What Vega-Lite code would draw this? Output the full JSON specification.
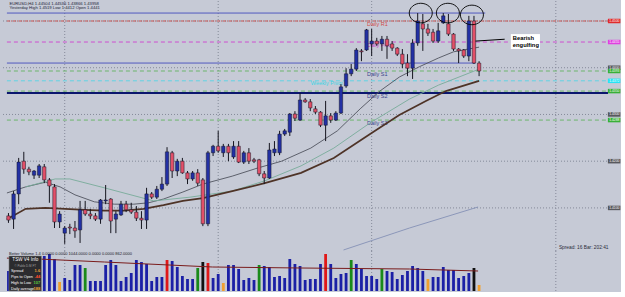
{
"$schema":"https://vega.github.io/schema/vega-lite/v6.json",
"background":"#c6cad6",
"padding":0,
"spacing":0,
"bounds":"flush",
"config":{"view":{"stroke":null},"font":"Liberation Sans"},
"datasets":{
"candles":[
{"i":0,"o":1.4083,"h":1.4089,"l":1.4068,"c":1.4074},
{"i":1,"o":1.4076,"h":1.4136,"l":1.4055,"c":1.4130},
{"i":2,"o":1.4130,"h":1.4207,"l":1.4108,"c":1.4198},
{"i":3,"o":1.4200,"h":1.4220,"l":1.4173,"c":1.4183},
{"i":4,"o":1.4183,"h":1.4188,"l":1.4170,"c":1.4177},
{"i":5,"o":1.4170,"h":1.4181,"l":1.4162,"c":1.4179},
{"i":6,"o":1.4170,"h":1.4194,"l":1.4164,"c":1.4190},
{"i":7,"o":1.4188,"h":1.4194,"l":1.4153,"c":1.4160},
{"i":8,"o":1.4160,"h":1.4164,"l":1.4111,"c":1.4147},
{"i":9,"o":1.4145,"h":1.4151,"l":1.4057,"c":1.4070},
{"i":10,"o":1.4070,"h":1.4093,"l":1.4057,"c":1.4087},
{"i":11,"o":1.4046,"h":1.4061,"l":1.4023,"c":1.4057},
{"i":12,"o":1.4059,"h":1.4066,"l":1.4044,"c":1.4057},
{"i":13,"o":1.4057,"h":1.4072,"l":1.4036,"c":1.4051},
{"i":14,"o":1.4053,"h":1.4115,"l":1.4025,"c":1.4096},
{"i":15,"o":1.4096,"h":1.4115,"l":1.4083,"c":1.4087},
{"i":16,"o":1.4087,"h":1.4098,"l":1.4076,"c":1.4083},
{"i":17,"o":1.4083,"h":1.4089,"l":1.4072,"c":1.4076},
{"i":18,"o":1.4076,"h":1.4119,"l":1.4066,"c":1.4117},
{"i":19,"o":1.4115,"h":1.4149,"l":1.4108,"c":1.4117},
{"i":20,"o":1.4119,"h":1.4121,"l":1.4046,"c":1.4072},
{"i":21,"o":1.4076,"h":1.4093,"l":1.4046,"c":1.4087},
{"i":22,"o":1.4085,"h":1.4115,"l":1.4083,"c":1.4108},
{"i":23,"o":1.4108,"h":1.4115,"l":1.4091,"c":1.4096},
{"i":24,"o":1.4096,"h":1.4111,"l":1.4087,"c":1.4091},
{"i":25,"o":1.4091,"h":1.4104,"l":1.4072,"c":1.4078},
{"i":26,"o":1.4078,"h":1.4093,"l":1.4055,"c":1.4074},
{"i":27,"o":1.4074,"h":1.4143,"l":1.4055,"c":1.4130},
{"i":28,"o":1.4130,"h":1.4134,"l":1.4119,"c":1.4123},
{"i":29,"o":1.4123,"h":1.4147,"l":1.4119,"c":1.4140},
{"i":30,"o":1.4140,"h":1.4166,"l":1.4136,"c":1.4151},
{"i":31,"o":1.4151,"h":1.4230,"l":1.4147,"c":1.4220},
{"i":32,"o":1.4218,"h":1.4222,"l":1.4164,"c":1.4179},
{"i":33,"o":1.4179,"h":1.4205,"l":1.4168,"c":1.4200},
{"i":34,"o":1.4200,"h":1.4207,"l":1.4173,"c":1.4175},
{"i":35,"o":1.4175,"h":1.4179,"l":1.4151,"c":1.4162},
{"i":36,"o":1.4162,"h":1.4179,"l":1.4158,"c":1.4175},
{"i":37,"o":1.4175,"h":1.4183,"l":1.4147,"c":1.4153},
{"i":38,"o":1.4160,"h":1.4164,"l":1.4061,"c":1.4066},
{"i":39,"o":1.4066,"h":1.4222,"l":1.4061,"c":1.4218},
{"i":40,"o":1.4218,"h":1.4235,"l":1.4211,"c":1.4232},
{"i":41,"o":1.4232,"h":1.4265,"l":1.4218,"c":1.4222},
{"i":42,"o":1.4218,"h":1.4237,"l":1.4209,"c":1.4232},
{"i":43,"o":1.4232,"h":1.4237,"l":1.4200,"c":1.4218},
{"i":44,"o":1.4209,"h":1.4243,"l":1.4205,"c":1.4232},
{"i":45,"o":1.4232,"h":1.4243,"l":1.4196,"c":1.4198},
{"i":46,"o":1.4198,"h":1.4222,"l":1.4194,"c":1.4218},
{"i":47,"o":1.4218,"h":1.4228,"l":1.4194,"c":1.4200},
{"i":48,"o":1.4203,"h":1.4207,"l":1.4196,"c":1.4200},
{"i":49,"o":1.4203,"h":1.4205,"l":1.4168,"c":1.4173},
{"i":50,"o":1.4173,"h":1.4179,"l":1.4151,"c":1.4164},
{"i":51,"o":1.4164,"h":1.4239,"l":1.4162,"c":1.4224},
{"i":52,"o":1.4218,"h":1.4243,"l":1.4211,"c":1.4226},
{"i":53,"o":1.4218,"h":1.4265,"l":1.4213,"c":1.4258},
{"i":54,"o":1.4258,"h":1.4269,"l":1.4254,"c":1.4265},
{"i":55,"o":1.4262,"h":1.4303,"l":1.4254,"c":1.4301},
{"i":56,"o":1.4301,"h":1.4307,"l":1.4286,"c":1.4292},
{"i":57,"o":1.4288,"h":1.4346,"l":1.4286,"c":1.4331},
{"i":58,"o":1.4331,"h":1.4335,"l":1.4325,"c":1.4327},
{"i":59,"o":1.4327,"h":1.4333,"l":1.4307,"c":1.4314},
{"i":60,"o":1.4312,"h":1.4318,"l":1.4301,"c":1.4305},
{"i":61,"o":1.4305,"h":1.4307,"l":1.4273,"c":1.4277},
{"i":62,"o":1.4277,"h":1.4329,"l":1.4243,"c":1.4297},
{"i":63,"o":1.4297,"h":1.4303,"l":1.4282,"c":1.4288},
{"i":64,"o":1.4288,"h":1.4307,"l":1.4286,"c":1.4303},
{"i":65,"o":1.4303,"h":1.4365,"l":1.4301,"c":1.4359},
{"i":66,"o":1.4361,"h":1.4399,"l":1.4357,"c":1.4387},
{"i":67,"o":1.4387,"h":1.4408,"l":1.4382,"c":1.4397},
{"i":68,"o":1.4397,"h":1.4442,"l":1.4393,"c":1.4438},
{"i":69,"o":1.4436,"h":1.4440,"l":1.4414,"c":1.4434},
{"i":70,"o":1.4438,"h":1.4483,"l":1.4436,"c":1.4481},
{"i":71,"o":1.4451,"h":1.4483,"l":1.4425,"c":1.4457},
{"i":72,"o":1.4457,"h":1.4464,"l":1.4447,"c":1.4451},
{"i":73,"o":1.4451,"h":1.4468,"l":1.4436,"c":1.4461},
{"i":74,"o":1.4461,"h":1.4468,"l":1.4419,"c":1.4447},
{"i":75,"o":1.4451,"h":1.4457,"l":1.4436,"c":1.4442},
{"i":76,"o":1.4442,"h":1.4444,"l":1.4425,"c":1.4429},
{"i":77,"o":1.4429,"h":1.4440,"l":1.4399,"c":1.4408},
{"i":78,"o":1.4410,"h":1.4429,"l":1.4382,"c":1.4399},
{"i":79,"o":1.4399,"h":1.4461,"l":1.4376,"c":1.4453},
{"i":80,"o":1.4453,"h":1.4517,"l":1.4447,"c":1.4500},
{"i":81,"o":1.4494,"h":1.4515,"l":1.4436,"c":1.4483},
{"i":82,"o":1.4483,"h":1.4494,"l":1.4468,"c":1.4474},
{"i":83,"o":1.4476,"h":1.4483,"l":1.4453,"c":1.4457},
{"i":84,"o":1.4457,"h":1.4496,"l":1.4453,"c":1.4479},
{"i":85,"o":1.4496,"h":1.4517,"l":1.4494,"c":1.4511},
{"i":86,"o":1.4494,"h":1.4515,"l":1.4468,"c":1.4472},
{"i":87,"o":1.4472,"h":1.4474,"l":1.4436,"c":1.4440},
{"i":88,"o":1.4440,"h":1.4442,"l":1.4410,"c":1.4436},
{"i":89,"o":1.4438,"h":1.4440,"l":1.4421,"c":1.4425},
{"i":90,"o":1.4425,"h":1.4511,"l":1.4414,"c":1.4500},
{"i":91,"o":1.4500,"h":1.4511,"l":1.4408,"c":1.4410},
{"i":92,"o":1.4410,"h":1.4414,"l":1.4382,"c":1.4393}
],
"vol":[
{"i":0,"v":9000,"t":"normal"},{"i":1,"v":14400,"t":"normal"},{"i":2,"v":15750,"t":"normal"},{"i":3,"v":11250,"t":"normal"},
{"i":4,"v":6750,"t":"normal"},{"i":5,"v":8100,"t":"normal"},{"i":6,"v":12600,"t":"normal"},{"i":7,"v":15750,"t":"normal"},
{"i":8,"v":16650,"t":"normal"},{"i":9,"v":14400,"t":"normal"},{"i":10,"v":4050,"t":"low"},{"i":11,"v":5850,"t":"normal"},
{"i":12,"v":4950,"t":"normal"},{"i":13,"v":11700,"t":"normal"},{"i":14,"v":11700,"t":"normal"},{"i":15,"v":10350,"t":"churn"},
{"i":16,"v":4500,"t":"normal"},{"i":17,"v":4500,"t":"normal"},{"i":18,"v":4500,"t":"normal"},{"i":19,"v":11700,"t":"normal"},
{"i":20,"v":13950,"t":"normal"},{"i":21,"v":11700,"t":"normal"},{"i":22,"v":4500,"t":"normal"},{"i":23,"v":6300,"t":"normal"},
{"i":24,"v":8100,"t":"normal"},{"i":25,"v":13950,"t":"normal"},{"i":26,"v":13050,"t":"normal"},{"i":27,"v":12150,"t":"normal"},
{"i":28,"v":4500,"t":"normal"},{"i":29,"v":6300,"t":"normal"},{"i":30,"v":6300,"t":"normal"},{"i":31,"v":13950,"t":"climax"},
{"i":32,"v":13500,"t":"normal"},{"i":33,"v":10800,"t":"normal"},{"i":34,"v":6750,"t":"normal"},{"i":35,"v":5400,"t":"normal"},
{"i":36,"v":5400,"t":"normal"},{"i":37,"v":10350,"t":"churn"},{"i":38,"v":13050,"t":"climaxchurn"},{"i":39,"v":12600,"t":"climax"},
{"i":40,"v":5850,"t":"normal"},{"i":41,"v":7650,"t":"normal"},{"i":42,"v":3600,"t":"low"},{"i":43,"v":11700,"t":"normal"},
{"i":44,"v":11700,"t":"normal"},{"i":45,"v":9900,"t":"normal"},{"i":46,"v":4950,"t":"normal"},{"i":47,"v":5850,"t":"normal"},
{"i":48,"v":4950,"t":"normal"},{"i":49,"v":11700,"t":"churn"},{"i":50,"v":11250,"t":"normal"},{"i":51,"v":10800,"t":"normal"},
{"i":52,"v":6300,"t":"normal"},{"i":53,"v":6750,"t":"normal"},{"i":54,"v":5850,"t":"normal"},{"i":55,"v":14400,"t":"normal"},
{"i":56,"v":12150,"t":"normal"},{"i":57,"v":11250,"t":"normal"},{"i":58,"v":4950,"t":"normal"},{"i":59,"v":5400,"t":"normal"},
{"i":60,"v":5400,"t":"normal"},{"i":61,"v":12150,"t":"normal"},{"i":62,"v":16650,"t":"climax"},{"i":63,"v":12150,"t":"normal"},
{"i":64,"v":5850,"t":"normal"},{"i":65,"v":7650,"t":"normal"},{"i":66,"v":8100,"t":"normal"},{"i":67,"v":13950,"t":"churn"},
{"i":68,"v":12150,"t":"normal"},{"i":69,"v":9900,"t":"normal"},{"i":70,"v":6750,"t":"normal"},{"i":71,"v":6750,"t":"normal"},
{"i":72,"v":5400,"t":"normal"},{"i":73,"v":9900,"t":"churn"},{"i":74,"v":9000,"t":"normal"},{"i":75,"v":8550,"t":"normal"},
{"i":76,"v":5400,"t":"normal"},{"i":77,"v":7200,"t":"normal"},{"i":78,"v":9000,"t":"normal"},{"i":79,"v":11250,"t":"normal"},
{"i":80,"v":10350,"t":"normal"},{"i":81,"v":9000,"t":"normal"},{"i":82,"v":5400,"t":"low"},{"i":83,"v":6300,"t":"normal"},
{"i":84,"v":6300,"t":"normal"},{"i":85,"v":10800,"t":"normal"},{"i":86,"v":9450,"t":"normal"},{"i":87,"v":9450,"t":"normal"},
{"i":88,"v":5850,"t":"normal"},{"i":89,"v":6750,"t":"normal"},{"i":90,"v":8100,"t":"normal"},{"i":91,"v":10350,"t":"climaxchurn"},
{"i":92,"v":2700,"t":"low"}
],
"vma":[{"i":-0.3,"v":14800},{"i":5.9,"v":14400},{"i":18.75,"v":13050},{"i":39.9,"v":10800},{"i":57.2,"v":10350},{"i":78.4,"v":9900},{"i":91.8,"v":9000}],
"ma":[
{"n":"fast","i":-0.3,"p":1.4132},{"n":"fast","i":3.37,"p":1.4145},{"n":"fast","i":7.21,"p":1.4155},{"n":"fast","i":10.1,"p":1.4145},
{"n":"fast","i":13.0,"p":1.4128},{"n":"fast","i":16.8,"p":1.4113},{"n":"fast","i":20.7,"p":1.4108},{"n":"fast","i":24.5,"p":1.4108},
{"n":"fast","i":27.4,"p":1.4111},{"n":"fast","i":30.3,"p":1.4119},{"n":"fast","i":34.1,"p":1.4134},{"n":"fast","i":38.0,"p":1.4151},
{"n":"fast","i":43.75,"p":1.4168},{"n":"fast","i":48.6,"p":1.4185},{"n":"fast","i":53.4,"p":1.4200},{"n":"fast","i":59.1,"p":1.4228},
{"n":"fast","i":64.3,"p":1.4265},{"n":"fast","i":68.75,"p":1.4312},{"n":"fast","i":72.6,"p":1.4350},{"n":"fast","i":76.4,"p":1.4380},
{"n":"fast","i":80.3,"p":1.4402},{"n":"fast","i":84.1,"p":1.4421},{"n":"fast","i":87.0,"p":1.4434},{"n":"fast","i":89.9,"p":1.4440},
{"n":"fast","i":92.0,"p":1.4444},
{"n":"mid","i":3.37,"p":1.4145},{"n":"mid","i":9.13,"p":1.4162},{"n":"mid","i":12.0,"p":1.4162},{"n":"mid","i":18.75,"p":1.4143},
{"n":"mid","i":28.4,"p":1.4115},{"n":"mid","i":35.5,"p":1.4123},{"n":"mid","i":43.75,"p":1.4136},{"n":"mid","i":50.1,"p":1.4158},
{"n":"mid","i":57.2,"p":1.4190},{"n":"mid","i":63.6,"p":1.4228},{"n":"mid","i":70.7,"p":1.4282},{"n":"mid","i":78.4,"p":1.4333},
{"n":"mid","i":84.1,"p":1.4363},{"n":"mid","i":92.0,"p":1.4397},
{"n":"slow","i":-0.3,"p":1.4076},{"n":"slow","i":3.37,"p":1.4098},{"n":"slow","i":7.21,"p":1.4100},{"n":"slow","i":11.06,"p":1.4098},
{"n":"slow","i":14.9,"p":1.4096},{"n":"slow","i":18.75,"p":1.4094},{"n":"slow","i":22.6,"p":1.4094},{"n":"slow","i":26.4,"p":1.4098},
{"n":"slow","i":30.3,"p":1.4106},{"n":"slow","i":34.1,"p":1.4115},{"n":"slow","i":38.0,"p":1.4121},{"n":"slow","i":43.75,"p":1.4136},
{"n":"slow","i":50.1,"p":1.4153},{"n":"slow","i":57.2,"p":1.4175},{"n":"slow","i":63.6,"p":1.4207},{"n":"slow","i":70.7,"p":1.4258},
{"n":"slow","i":76.4,"p":1.4299},{"n":"slow","i":81.6,"p":1.4329},{"n":"slow","i":85.5,"p":1.4350},{"n":"slow","i":92.0,"p":1.4372},
{"n":"long","i":65.5,"p":1.4010},{"n":"long","i":78.4,"p":1.4057},{"n":"long","i":91.8,"p":1.4102}
],
"levels":[
{"n":"Top","p":1.4517,"a":-0.3,"b":93.2},
{"n":"R1","p":1.4500,"a":-0.3,"b":117.2,"label":"Daily R1"},
{"n":"Pivot","p":1.4455,"a":-0.3,"b":117.2,"label":"Daily Pivot"},
{"n":"Sup","p":1.4410,"a":-0.3,"b":91.3},
{"n":"S1","p":1.4393,"a":-0.3,"b":117.2,"label":"Daily S1"},
{"n":"WPivot","p":1.4372,"a":-0.3,"b":117.2,"label":"Weekly Pivot"},
{"n":"WS1","p":1.4350,"a":-0.3,"b":117.2},
{"n":"S2","p":1.4346,"a":-0.3,"b":117.2,"label":"Daily S2"},
{"n":"S3","p":1.4288,"a":-0.3,"b":117.2,"label":"Daily S3"}
],
"boxes":[
{"n":"G","p":1.44},{"n":"G","p":1.43},{"n":"G","p":1.42},{"n":"G","p":1.41},
{"n":"R1","p":1.4500},{"n":"Pivot","p":1.4455},{"n":"S1","p":1.4393},{"n":"WPivot","p":1.4372},
{"n":"WS1","p":1.4350},{"n":"S3","p":1.4288}
],
"grid":[{"p":1.45},{"p":1.44},{"p":1.43},{"p":1.42},{"p":1.41}],
"vgrid":[{"i":11},{"i":41},{"i":71},{"i":107}]
},
"vconcat":[
{
"width":612,"height":250,
"resolve":{"scale":{"color":"independent","stroke":"independent","fill":"independent","strokeDash":"independent"}},
"layer":[
{"data":{"name":"grid"},"mark":{"type":"rule","color":"#858a99","strokeDash":[1,2],"strokeWidth":1},
 "encoding":{"y":{"field":"p","type":"quantitative","scale":{"domain":[1.40078,1.45428],"nice":false,"zero":false},"axis":null}}},
{"data":{"name":"vgrid"},"mark":{"type":"rule","color":"#858a99","strokeDash":[1,2],"strokeWidth":1},
 "encoding":{"x":{"field":"i","type":"quantitative","scale":{"domain":[-0.48,117.2],"nice":false,"zero":false},"axis":null}}},
{"data":{"name":"levels"},"transform":[{"filter":"datum.n != 'S2'"}],"mark":{"type":"rule","strokeWidth":1},
 "encoding":{"x":{"field":"a","type":"quantitative","axis":null},"x2":{"field":"b"},
  "y":{"field":"p","type":"quantitative","axis":null},
  "stroke":{"field":"n","type":"nominal","legend":null,"scale":{"domain":["Top","R1","Pivot","Sup","S1","WPivot","WS1","S3"],"range":["#4b55bf","#c9504f","#cf4fd0","#4b55bf","#6db56d","#5fd4e4","#6db56d","#6db56d"]}},
  "strokeDash":{"field":"n","type":"nominal","legend":null,"scale":{"domain":["Top","R1","Pivot","Sup","S1","WPivot","WS1","S3"],"range":[[1,0],[3,1,1,1],[4,3],[1,0],[4,3],[4,3],[4,3],[4,3]]}}}},
{"data":{"name":"levels"},"transform":[{"filter":"datum.n == 'S2'"}],"mark":{"type":"rule","strokeWidth":2,"color":"#0b176e"},
 "encoding":{"x":{"field":"a","type":"quantitative","axis":null},"x2":{"field":"b"},"y":{"field":"p","type":"quantitative","axis":null}}},
{"data":{"name":"levels"},"transform":[{"filter":"indexof(['R1','Pivot','S1','S2','S3'], datum.n) >= 0"}],
 "mark":{"type":"text","align":"left","baseline":"middle","dy":3,"fontSize":5.5},
 "encoding":{"x":{"datum":70.1,"type":"quantitative","axis":null},"y":{"field":"p","type":"quantitative","axis":null},"text":{"field":"label"},
  "fill":{"field":"n","type":"nominal","legend":null,"scale":{"domain":["R1","Pivot","S1","S2","S3"],"range":["#d24a4a","#c43cc4","#39448a","#39448a","#39448a"]}}}},
{"data":{"name":"levels"},"transform":[{"filter":"datum.n == 'WPivot'"}],
 "mark":{"type":"text","align":"left","baseline":"middle","dy":2,"fontSize":5.5,"color":"#3cd4e4"},
 "encoding":{"x":{"datum":59.1,"type":"quantitative","axis":null},"y":{"field":"p","type":"quantitative","axis":null},"text":{"field":"label"}}},
{"data":{"name":"ma"},"transform":[{"filter":"datum.n != 'slow'"}],"mark":{"type":"line","strokeWidth":0.9},
 "encoding":{"x":{"field":"i","type":"quantitative","axis":null},"y":{"field":"p","type":"quantitative","axis":null},
  "stroke":{"field":"n","type":"nominal","legend":null,"scale":{"domain":["fast","mid","long"],"range":["#50535f","#78ac9a","#8591b6"]}}}},
{"data":{"name":"ma"},"transform":[{"filter":"datum.n == 'slow'"}],"mark":{"type":"line","strokeWidth":1.7,"color":"#4e3327"},
 "encoding":{"x":{"field":"i","type":"quantitative","axis":null},"y":{"field":"p","type":"quantitative","axis":null}}},
{"data":{"name":"candles"},"mark":{"type":"rule","color":"#15151f","strokeWidth":1},
 "encoding":{
  "x":{"field":"i","type":"quantitative","title":null,"axis":{"labels":false,"ticks":false,"domain":true,"domainColor":"#6e7180","grid":false,"title":null}},
  "y":{"field":"l","type":"quantitative","title":null,"axis":{"orient":"right","values":[1.4525,1.45,1.4475,1.445,1.4425,1.44,1.4375,1.435,1.4325,1.43,1.4275,1.425,1.4225,1.42,1.4175,1.415,1.4125,1.41,1.4075,1.405,1.4025],"format":".4f","labelFontSize":3.3,"labelLimit":10,"labelColor":"#33363f","tickSize":1,"tickColor":"#6e7180","domainColor":"#6e7180","labelPadding":1,"grid":false,"title":null,"labelOverlap":false,"labelBound":false,"labelFlush":false}},
  "y2":{"field":"h"}}},
{"data":{"name":"candles"},"mark":{"type":"bar","width":3.4,"stroke":"#161628","strokeWidth":0.5},
 "encoding":{"x":{"field":"i","type":"quantitative","axis":null},"y":{"field":"o","type":"quantitative","axis":null},"y2":{"field":"c"},
  "fill":{"condition":{"test":"datum.c >= datum.o","value":"#2230a4"},"value":"#e25068"}}},
{"data":{"values":[{"i":80.6,"p":1.4517},{"i":85.9,"p":1.4517},{"i":90.6,"p":1.4513}]},
 "mark":{"type":"point","shape":"M-1,0A1,0.85,0,1,1,1,0A1,0.85,0,1,1,-1,0Z","size":530,"filled":false,"color":"#000000","strokeWidth":0.9,"opacity":1},
 "encoding":{"x":{"field":"i","type":"quantitative","axis":null},"y":{"field":"p","type":"quantitative","axis":null}}},
{"data":{"values":[{"i":91.3,"p":1.4457},{"i":97.0,"p":1.4461}]},"mark":{"type":"line","color":"#000000","strokeWidth":1},
 "encoding":{"x":{"field":"i","type":"quantitative","axis":null},"y":{"field":"p","type":"quantitative","axis":null}}},
{"data":{"values":[{"a":98.2,"b":103.9,"p1":1.4472,"p2":1.4440}]},"mark":{"type":"rect","fill":"#ffffff"},
 "encoding":{"x":{"field":"a","type":"quantitative","axis":null},"x2":{"field":"b"},"y":{"field":"p1","type":"quantitative","axis":null},"y2":{"field":"p2"}}},
{"data":{"values":[{"t":"Bearish","p":1.4464},{"t":"engulfing","p":1.4448}]},
 "mark":{"type":"text","align":"left","baseline":"middle","fontSize":5.8,"fontWeight":"bold","color":"#000000"},
 "encoding":{"x":{"datum":98.6,"type":"quantitative","axis":null},"y":{"field":"p","type":"quantitative","axis":null},"text":{"field":"t"}}},
{"data":{"values":[{"t":"EURUSD,H4  1.44504 1.44536 1.43866 1.43958","p":1.4536},{"t":"Yesterday High 1.4519   Low 1.4412   Open 1.4441","p":1.4527}]},
 "mark":{"type":"text","align":"left","baseline":"middle","fontSize":4.2,"color":"#23243a"},
 "encoding":{"x":{"datum":0.2,"type":"quantitative","axis":null},"y":{"field":"p","type":"quantitative","axis":null},"text":{"field":"t"}}},
{"data":{"values":[{"t":"Spread: 16  Bar: 202:41","p":1.4014}]},
 "mark":{"type":"text","align":"left","baseline":"middle","fontSize":4.8,"color":"#2a2c3a"},
 "encoding":{"x":{"datum":107.6,"type":"quantitative","axis":null},"y":{"field":"p","type":"quantitative","axis":null},"text":{"field":"t"}}},
{"data":{"name":"boxes"},"mark":{"type":"tick","orient":"horizontal","size":12.5,"thickness":4.5,"opacity":1},
 "encoding":{"x":{"datum":118.4,"type":"quantitative","axis":null},"y":{"field":"p","type":"quantitative","axis":null},
  "color":{"field":"n","type":"nominal","legend":null,"scale":{"domain":["G","R1","Pivot","S1","WPivot","WS1","S3"],"range":["#58595e","#e02b2b","#e040e0","#38b038","#28e4f4","#38b038","#38b038"]}}}},
{"data":{"name":"boxes"},"mark":{"type":"text","align":"left","baseline":"middle","fontSize":3.3,"color":"#ffffff"},
 "encoding":{"x":{"datum":117.45,"type":"quantitative","axis":null},"y":{"field":"p","type":"quantitative","axis":null},"text":{"field":"p","format":".4f"}}}
]
},
{
"width":612,"height":40,
"resolve":{"scale":{"color":"independent"}},
"layer":[
{"data":{"name":"vgrid"},"mark":{"type":"rule","color":"#858a99","strokeDash":[1,2],"strokeWidth":1},
 "encoding":{"x":{"field":"i","type":"quantitative","scale":{"domain":[-0.48,117.2],"nice":false,"zero":false},"axis":null}}},
{"data":{"name":"vol"},"mark":{"type":"bar","width":2.8},
 "encoding":{
  "x":{"field":"i","type":"quantitative","title":null,"axis":{"values":[0,4,8,12,16,20,24,28,32,36,40,44,48,52,56,60,64,68,72,76,80,84,88,92],
   "labelExpr":"['24 Mar 2011','24 Mar 20:00','25 Mar 12:00','28 Mar 04:00','28 Mar 20:00','29 Mar 12:00','30 Mar 04:00','30 Mar 20:00','31 Mar 12:00','1 Apr 04:00','1 Apr 20:00','4 Apr 12:00','5 Apr 04:00','5 Apr 20:00','6 Apr 12:00','7 Apr 04:00','7 Apr 20:00','8 Apr 12:00','11 Apr 04:00','11 Apr 20:00','12 Apr 12:00','13 Apr 04:00','13 Apr 20:00','14 Apr 12:00'][round(datum.value/4)]",
   "labelAlign":"left","labelFontSize":4.4,"labelColor":"#33363f","labelPadding":0.5,"tickSize":1.5,"tickColor":"#6e7180","domainColor":"#6e7180","grid":false,"labelOverlap":false,"labelBound":false,"labelFlush":false,"title":null}},
  "y":{"field":"v","type":"quantitative","title":null,"scale":{"domain":[0,18000],"nice":false,"zero":false},
   "axis":{"orient":"right","values":[17019.2],"format":".1f","labelFontSize":3,"labelLimit":10.5,"labelColor":"#33363f","tickSize":1,"tickColor":"#6e7180","domainColor":"#6e7180","labelPadding":1,"grid":false,"title":null,"labelBound":false,"labelFlush":false}},
  "color":{"field":"t","type":"nominal","legend":null,"scale":{"domain":["normal","climax","churn","climaxchurn","low"],"range":["#1b20a6","#e01818","#1a8a1a","#101010","#f0a030"]}}}},
{"data":{"name":"vma"},"mark":{"type":"line","color":"#7a1c1c","strokeWidth":1},
 "encoding":{"x":{"field":"i","type":"quantitative","axis":null},"y":{"field":"v","type":"quantitative","axis":null}}},
{"data":{"values":[{"a":0.1,"b":6.45,"v1":0,"v2":15750}]},"mark":{"type":"rect","fill":"#2b2b2e","stroke":"#8a8a8a","strokeWidth":0.5},
 "encoding":{"x":{"field":"a","type":"quantitative","axis":null},"x2":{"field":"b"},"y":{"field":"v1","type":"quantitative","axis":null},"y2":{"field":"v2"}}},
{"data":{"values":[{"t":"TSW  V4 Info","v":13950}]},"mark":{"type":"text","align":"center","baseline":"middle","fontSize":4.6,"color":"#ffffff"},
 "encoding":{"x":{"datum":3.3,"type":"quantitative","axis":null},"y":{"field":"v","type":"quantitative","axis":null},"text":{"field":"t"}}},
{"data":{"values":[{"t":"\u00a9 Pablo D.M FT","v":11500}]},"mark":{"type":"text","align":"center","baseline":"middle","fontSize":3,"color":"#a0a0a0"},
 "encoding":{"x":{"datum":3.3,"type":"quantitative","axis":null},"y":{"field":"v","type":"quantitative","axis":null},"text":{"field":"t"}}},
{"data":{"values":[{"t":"Spread","v":9000},{"t":"Pips to Open","v":6300},{"t":"High to Low","v":3600},{"t":"Daily average","v":900}]},
 "mark":{"type":"text","align":"left","baseline":"middle","fontSize":3.8,"color":"#ffffff"},
 "encoding":{"x":{"datum":0.5,"type":"quantitative","axis":null},"y":{"field":"v","type":"quantitative","axis":null},"text":{"field":"t"}}},
{"data":{"values":[{"k":"spread","t":"1.6","v":9000},{"k":"pips","t":"-44","v":6300},{"k":"hl","t":"107","v":3600},{"k":"avg","t":"188","v":900}]},
 "mark":{"type":"text","align":"right","baseline":"middle","fontSize":4,"fontWeight":"bold"},
 "encoding":{"x":{"datum":6.2,"type":"quantitative","axis":null},"y":{"field":"v","type":"quantitative","axis":null},"text":{"field":"t"},
  "color":{"field":"k","type":"nominal","legend":null,"scale":{"domain":["spread","pips","hl","avg"],"range":["#f0a33a","#ff4a2a","#5ccc3c","#f0a33a"]}}}},
{"data":{"values":[{"t":"Better Volume 1.4   0.0000  0.0000  1044.0000  0.0000  0.0000  862.0000","v":16800}]},
 "mark":{"type":"text","align":"left","baseline":"middle","fontSize":4,"color":"#202028"},
 "encoding":{"x":{"datum":0.1,"type":"quantitative","axis":null},"y":{"field":"v","type":"quantitative","axis":null},"text":{"field":"t"}}}
]
}
]
}
